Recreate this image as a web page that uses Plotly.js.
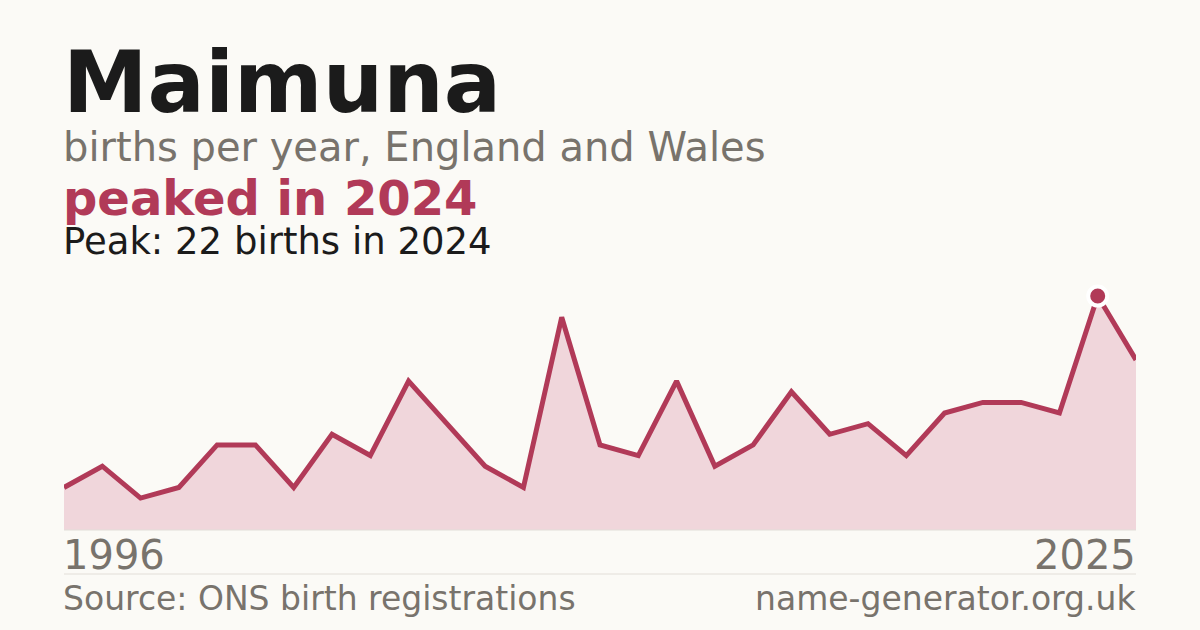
<!DOCTYPE html>
<html>
<head>
<meta charset="utf-8">
<script src="https://cdn.plot.ly/plotly-3.0.1.min.js"></script>
<style>
  html, body { margin: 0; padding: 0; background: #fbfaf6; }
  #chart { width: 1200px; height: 630px; }
</style>
</head>
<body>
<div id="chart"></div>
<script>
// births per year (29 points, first 1996, last 2025)
const years = ['1996', '1998', '1999', '2000', '2001', '2002', '2003', '2004', '2005', '2006',
  '2007', '2008', '2009', '2010', '2011', '2012', '2013', '2014', '2015', '2016',
  '2017', '2018', '2019', '2020', '2021', '2022', '2023', '2024', '2025'];
const births = [4, 6, 3, 4, 8, 8, 4, 9, 7, 14,
  10, 6, 4, 20, 8, 7, 14, 6, 8, 13,
  9, 10, 7, 11, 12, 12, 11, 22, 16];

const nameText = 'Maimuna';
const subtitleText = 'births per year, England and Wales';
const sourceText = 'Source: ONS birth registrations';
const siteText = 'name-generator.org.uk';

const RED = '#b13a58';
const GREY = '#78736c';
const INK = '#1b1b1b';
const BG = '#fbfaf6';
const FONT = 'DejaVu Sans';

let peakIdx = 0;
births.forEach((v, i) => { if (v > births[peakIdx]) peakIdx = i; });
const peakYear = years[peakIdx];

// plot area runs from y=270 to y=530 (260px), x from 64 to 1136
const TOP = 270, BOTTOM = 530, H = BOTTOM - TOP, W = 1072;
const py = (pix) => (BOTTOM - pix) / H;
const LEFT = -2 / W, RIGHT = 1 + 1 / W;

const traces = [
  {
    x: years,
    y: births,
    type: 'scatter',
    mode: 'lines',
    fill: 'tozeroy',
    fillcolor: '#f0d6db',
    line: {color: RED, width: 5, shape: 'linear'},
    hoverinfo: 'skip'
  },
  {
    x: [peakYear],
    y: [births[peakIdx]],
    type: 'scatter',
    mode: 'markers',
    marker: {size: 19, color: RED, line: {color: '#ffffff', width: 4}},
    hoverinfo: 'skip'
  }
];

const annotations = [
  {text: '<b>' + nameText + '</b>', x: LEFT, y: py(83), size: 85, color: INK, anchor: 'left'},
  {text: subtitleText, x: LEFT, y: py(147), size: 40, color: GREY, anchor: 'left'},
  {text: '<b>peaked in ' + peakYear + '</b>', x: LEFT, y: py(198), size: 48, color: RED, anchor: 'left'},
  {text: 'Peak: ' + births[peakIdx] + ' births in ' + peakYear, x: LEFT, y: py(241), size: 37, color: INK, anchor: 'left'},
  {text: years[0], x: LEFT, y: py(555), size: 40, color: GREY, anchor: 'left'},
  {text: years[years.length - 1], x: RIGHT, y: py(555), size: 40, color: GREY, anchor: 'right'},
  {text: sourceText, x: LEFT, y: py(598), size: 33, color: GREY, anchor: 'left'},
  {text: siteText, x: RIGHT, y: py(598), size: 33, color: GREY, anchor: 'right'}
].map(a => ({
  text: a.text,
  xref: 'paper', yref: 'paper',
  x: a.x, y: a.y,
  xanchor: a.anchor, yanchor: 'middle',
  showarrow: false,
  borderpad: 0,
  font: {family: FONT, size: a.size, color: a.color}
}));

const layout = {
  width: 1200,
  height: 630,
  margin: {l: 64, r: 64, t: TOP, b: 630 - BOTTOM, pad: 0},
  paper_bgcolor: BG,
  plot_bgcolor: BG,
  showlegend: false,
  xaxis: {
    type: 'category',
    range: [0, years.length - 1],
    showgrid: false, zeroline: false, showticklabels: false, ticks: '',
    fixedrange: true
  },
  yaxis: {
    range: [0, 24.45],
    showgrid: false, zeroline: false, showticklabels: false, ticks: '',
    fixedrange: true
  },
  shapes: [
    {type: 'line', xref: 'paper', yref: 'paper', x0: 0, x1: 1, y0: 0, y1: 0,
     line: {color: '#e2ded8', width: 1}},
    {type: 'line', xref: 'paper', yref: 'paper', x0: 0, x1: 1, y0: py(574), y1: py(574),
     line: {color: '#e2ded8', width: 1}}
  ],
  annotations: annotations
};

Plotly.newPlot('chart', traces, layout, {displayModeBar: false, staticPlot: true});
</script>
</body>
</html>
